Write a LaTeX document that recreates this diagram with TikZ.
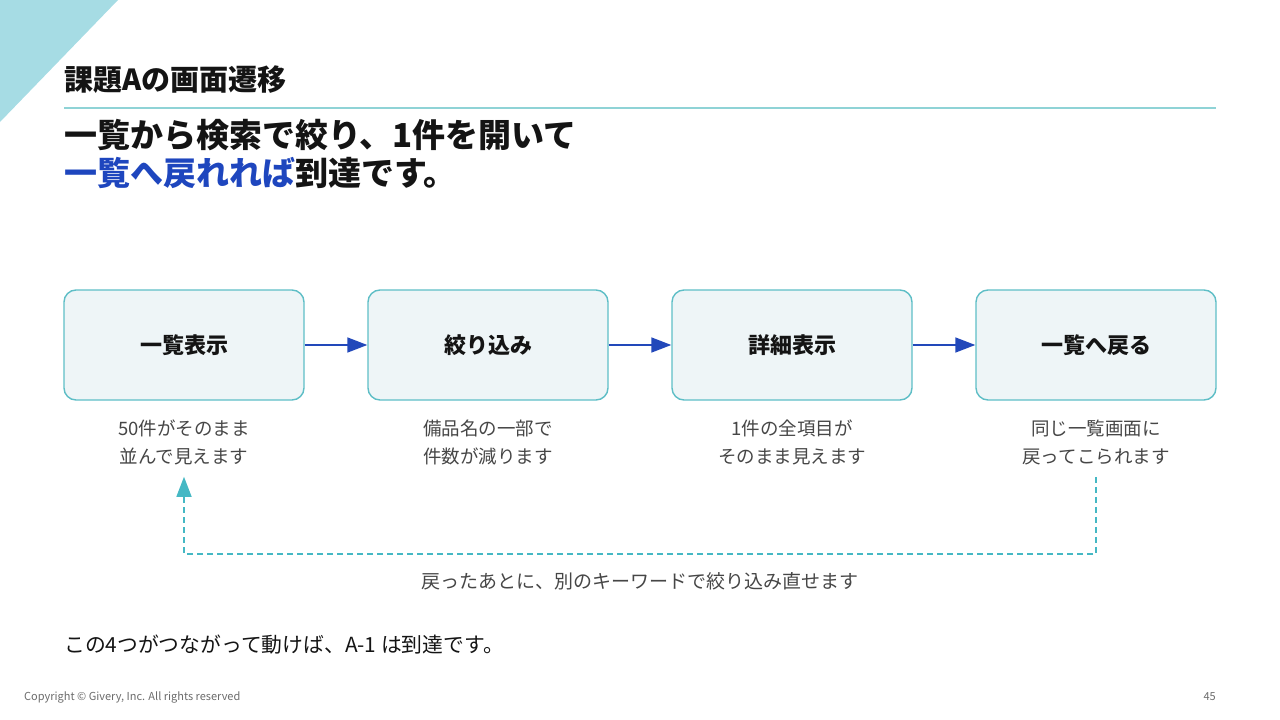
\documentclass[tikz,border=0pt]{standalone}
\usepackage{fontspec}
\setmainfont{Noto Sans CJK JP}
\usetikzlibrary{arrows.meta,positioning}
\definecolor{cornerteal}{RGB}{166,220,228}
\definecolor{ruleteal}{RGB}{143,211,214}
\definecolor{boxedge}{RGB}{94,190,198}
\definecolor{boxfill}{RGB}{238,245,247}
\definecolor{flowblue}{RGB}{34,72,186}
\definecolor{loopteal}{RGB}{69,184,196}
\definecolor{accent}{RGB}{30,70,190}
\definecolor{ink}{RGB}{20,20,20}
\definecolor{soft}{RGB}{70,70,70}
\tikzset{
  >={Triangle[length=20pt,width=15pt]},
  txt/.style={inner sep=0pt,anchor=west,text=ink},
  screen/.style={draw=boxedge,fill=boxfill,rounded corners=12pt,line width=1.4pt,
    minimum width=240pt,minimum height=110pt,text=ink,
    font=\fontsize{22}{26}\selectfont\bfseries},
  flow/.style={->,draw=flowblue,line width=1.6pt},
  note/.style={font=\fontsize{18.5}{28}\selectfont,text=soft,align=center,inner sep=0pt},
  loopback/.style={->,draw=loopteal,line width=1.5pt,dash pattern=on 6pt off 4pt},
}

\begin{document}
\begin{tikzpicture}[x=1pt,y=-1pt]
  \useasboundingbox (0,0) rectangle (1280,720);
  \fill[cornerteal] (0,0) -- (118,0) -- (0,122) -- cycle;
  \node[txt,font=\fontsize{29}{32}\selectfont\bfseries] (title) at (64,80) {課題Aの画面遷移};
  \draw[ruleteal,line width=1.6pt] (64,108) -- (1216,108);
  \node[txt,font=\fontsize{33}{38}\selectfont\bfseries] (headA) at (64,135) {一覧から検索で絞り、1件を開いて};
  \node[txt,font=\fontsize{33}{38}\selectfont\bfseries] (headB) at (64,173) {\textcolor{accent}{一覧へ戻れれば}到達です。};
  \foreach \lbl/\desc [count=\i] in {
    一覧表示/50件がそのまま\\並んで見えます,
    絞り込み/備品名の一部で\\件数が減ります,
    詳細表示/1件の全項目が\\そのまま見えます,
    一覧へ戻る/同じ一覧画面に\\戻ってこられます}
  {
    \node[screen] (b\i) at ({184+304*(\i-1)},345) {\lbl};
    \node[note] (d\i) at ({184+304*(\i-1)},442) {\desc};
  }
  \foreach \a/\b in {1/2,2/3,3/4} \draw[flow] (b\a) -- (b\b);
  \draw[loopback] ([yshift=-12pt]d4.south) -- ++(0,77) -| ([yshift=-12pt]d1.south);
  \node[note,font=\fontsize{19}{24}\selectfont] (loopnote) at (640,581) {戻ったあとに、別のキーワードで絞り込み直せます};
  \node[txt,font=\fontsize{20.8}{24}\selectfont] (summary) at (64,645) {この4つがつながって動けば、A-1 は到達です。};
  \node[txt,text=soft!80,font=\fontsize{11}{13}\selectfont] (copyright) at (24,697) {Copyright © Givery, Inc. All rights reserved};
  \node[txt,anchor=east,text=soft!80,font=\fontsize{11}{13}\selectfont] (pagenum) at (1216,697) {45};
\end{tikzpicture}
\end{document}
